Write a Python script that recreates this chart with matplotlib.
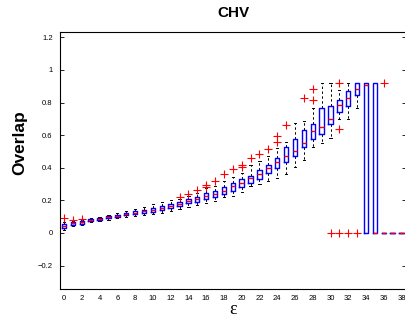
import matplotlib
matplotlib.use("Agg")
import matplotlib.pyplot as plt
import numpy as np

plt.rcParams["font.family"] = ["Liberation Sans", "DejaVu Sans"]

# one box per epsilon value 0..38
positions = np.arange(39)
q1 = [.030, .048, .055, .072, .082, .090, .099, .108, .118, .125,
      .131, .143, .155, .168, .182, .192, .206, .220, .237, .257,
      .282, .305, .331, .366, .397, .433, .472, .525, .577, .610,
      .667, .741, .779, .847, 0, 0, 0, 0, 0]
med = [.045, .058, .065, .078, .088, .096, .106, .115, .125, .133,
       .141, .155, .168, .180, .196, .210, .225, .240, .260, .286,
       .308, .337, .360, .400, .438, .474, .505, .554, .628, .652,
       .700, .783, .828, .881, .905, 0, 0, 0, 0]
q3 = [.057, .066, .072, .083, .093, .102, .112, .122, .133, .140,
      .151, .168, .180, .190, .208, .220, .245, .258, .280, .309,
      .329, .352, .385, .417, .462, .525, .578, .632, .669, .765,
      .782, .814, .871, .920, .920, .920, 0, 0, 0]
whis_lo = [.020, .040, .048, .065, .075, .082, .090, .098, .107, .110,
           .114, .125, .137, .145, .157, .170, .186, .194, .219, .227,
           .251, .290, .300, .320, .340, .360, .406, .447, .528, .552,
           .585, .700, .700, .768, 0, 0, 0, 0, 0]
whis_hi = [.065, .075, .080, .090, .100, .112, .125, .132, .145, .157,
           .176, .188, .202, .207, .228, .247, .274, .288, .320, .345,
           .370, .420, .440, .470, .520, .560, .674, .686, .768, .918,
           .918, .877, .918, .920, .920, .920, 0, 0, 0]
fliers = [[.09], [.078], [.088], [], [], [], [], [], [], [],
          [], [], [], [.222], [.242], [.266], [.284, .296], [.321], [.362], [.393],
          [.404, .419], [.457], [.487], [.517], [.556, .597], [.66], [], [.826], [.815, .881], [],
          [0], [0, .636, .92], [0], [0], [], [], [.92], [], []]

xtick_vals = list(range(0, 39, 2))
ytick_vals = [-0.2, 0, 0.2, 0.4, 0.6, 0.8, 1.0, 1.2]
ytick_labels = ["\u22120.2", "0", "0.2", "0.4", "0.6", "0.8", "1", "1.2"]

stats = [
    dict(q1=a, med=m, q3=b, whislo=lo, whishi=hi, fliers=f)
    for a, m, b, lo, hi, f in zip(q1, med, q3, whis_lo, whis_hi, fliers)
]

fig = plt.figure(figsize=(4.06, 3.24), dpi=100)
ax = fig.add_axes([0.1468, 0.108, 0.8532, 0.7932])

ax.bxp(
    stats, positions=positions, widths=0.5, capwidths=0.25, manage_ticks=False,
    boxprops=dict(color="#0000ff", lw=1.0, zorder=3),
    medianprops=dict(color="#ff0000", lw=1.0, zorder=4),
    whiskerprops=dict(color="black", lw=0.7, linestyle=(0, (2.5, 2.5)), zorder=2),
    capprops=dict(color="black", lw=0.7, zorder=2),
    flierprops=dict(marker="+", markeredgecolor="#ff0000", markersize=6,
                    markeredgewidth=0.8, linestyle="none"),
)

ax.set_xlim(-0.5, 38.5)
ax.set_ylim(-0.344, 1.233)
ax.set_xticks(xtick_vals)
ax.set_xticklabels([str(v) for v in xtick_vals])
ax.set_yticks(ytick_vals)
ax.set_yticklabels(ytick_labels)
ax.tick_params(axis="x", length=0, labelsize=5.5, pad=4)
ax.tick_params(axis="y", direction="in", length=3, width=0.6, right=True,
               labelsize=5.5, pad=5)
for s in ax.spines.values():
    s.set_linewidth(0.8)

fig.text(233 / 406, 1 - 13 / 324, "CHV", ha="center", va="center",
         fontsize=11, fontweight="bold")
fig.text(20 / 406, 1 - 143 / 324, "Overlap", ha="center", va="center",
         rotation=90, fontsize=12.5, fontweight="bold")
fig.text(233 / 406, 1 - 310 / 324, "\u03b5", ha="center", va="center",
         fontsize=13, family=["Liberation Serif", "DejaVu Serif"])

fig.savefig("out.png", dpi=100)
